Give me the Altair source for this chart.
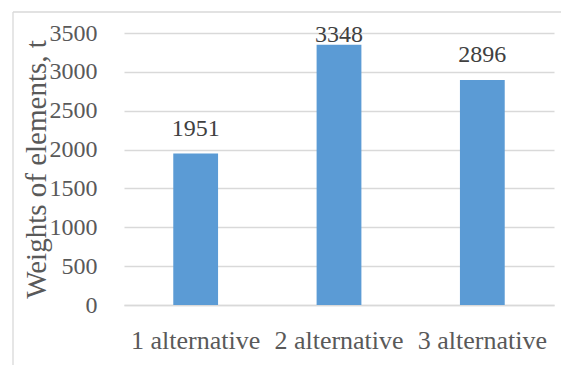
import altair as alt
import pandas as pd

categories = ["1 alternative", "2 alternative", "3 alternative"]
weights = [1951, 3348, 2896]
y_ticks = [0, 500, 1000, 1500, 2000, 2500, 3000, 3500]

df = pd.DataFrame({"alt": categories, "w": weights})

FONT = "Liberation Serif"
GRID = "#D9D9D9"

base = alt.Chart(df)

bars = base.mark_bar(color="#5B9BD5").encode(
    x=alt.X("alt:N", sort=categories, title=None,
            scale=alt.Scale(paddingInner=0.6875, paddingOuter=0.34375),
            axis=alt.Axis(labelAngle=0, labelFontSize=26, labelPadding=22,
                          ticks=False, domainColor=GRID, domainWidth=1.3, grid=False)),
    y=alt.Y("w:Q", title="Weights of elements, t",
            scale=alt.Scale(domain=[0, 3500], nice=False),
            axis=alt.Axis(values=y_ticks, format="d", labelOverlap=False,
                          labelFontSize=24, labelPadding=27,
                          ticks=False, domain=False, grid=True, gridColor=GRID,
                          gridWidth=1.3, titleFontSize=29,
                          titleAngle=270, titleX=-79, titleY=136,
                          titleAlign="center", titleBaseline="alphabetic")),
)

labels = base.transform_calculate(
    pos="min(datum.w + 225, 3384)"
).mark_text(font=FONT, fontSize=24, color="#404040", baseline="alphabetic").encode(
    x=alt.X("alt:N", sort=categories, axis=None),
    y=alt.Y("pos:Q", axis=None),
    text=alt.Text("w:Q", format="d"),
)

frame_df = pd.DataFrame({"a": [0]})
left_border = alt.Chart(frame_df).mark_rule(color=GRID, strokeWidth=1.3).encode(
    x=alt.value(-111), y=alt.value(-21), y2=alt.value(340))
top_border = alt.Chart(frame_df).mark_rule(color=GRID, strokeWidth=1.3).encode(
    x=alt.value(-111), x2=alt.value(440), y=alt.value(-21))

chart = alt.layer(left_border, top_border, bars, labels).resolve_axis(
    x="independent", y="independent"
).properties(
    width=430, height=272,
    background="white",
    autosize=alt.AutoSizeParams(type="none"),
    padding={"left": 124, "top": 33, "right": 7, "bottom": 60},
).configure_view(stroke=None).configure_axis(
    labelFont=FONT, titleFont=FONT, labelColor="#595959", titleColor="#595959",
    titleFontWeight="normal",
).configure_text(font=FONT)

chart.save("out.html", embed_options={"renderer": "svg", "actions": False})
